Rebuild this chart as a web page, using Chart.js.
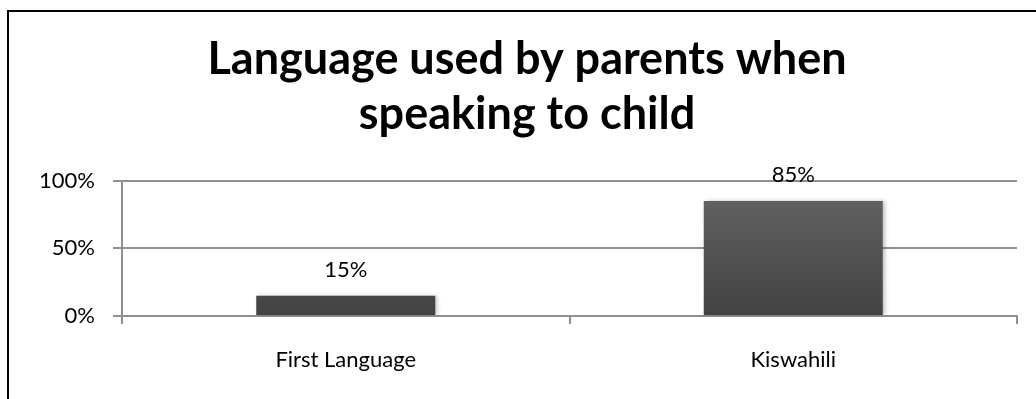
<!DOCTYPE html>
<html>
<head>
<meta charset="utf-8">
<script src="https://cdn.jsdelivr.net/npm/chart.js@4/dist/chart.umd.min.js"></script>
<style>
  html, body { margin: 0; padding: 0; background: #fff; overflow: hidden; }
  #frame {
    position: absolute; left: 7px; top: 10px; width: 1100px; height: 500px;
    border-left: 2px solid #000; border-top: 2px solid #000;
  }
  #chart { position: absolute; left: 0; top: 0; }
</style>
</head>
<body>
<div id="frame"></div>
<canvas id="chart" width="1036" height="399"></canvas>
<script>
const categories = ['First Language', 'Kiswahili'];
const shares = [15, 85];
const yTicks = [0, 50, 100];

const gridColor = '#8f8f8f';

// bars get a dark vertical gradient
function barFill(context) {
  const { chart } = context;
  const area = chart.chartArea;
  if (!area) return '#555';
  const g = chart.ctx.createLinearGradient(0, area.top, 0, area.bottom);
  g.addColorStop(0, '#666666');
  g.addColorStop(1, '#424242');
  return g;
}

// soft shadow behind bars
const barShadow = {
  id: 'barShadow',
  beforeDatasetsDraw(chart) {
    const ctx = chart.ctx;
    ctx.save();
    ctx.shadowColor = 'rgba(0,0,0,0.25)';
    ctx.shadowBlur = 4;
    ctx.shadowOffsetX = 2;
    ctx.shadowOffsetY = 0;
  },
  afterDatasetsDraw(chart) {
    chart.ctx.restore();
  }
};

// percentage above each bar
const valueLabels = {
  id: 'valueLabels',
  afterDatasetsDraw(chart) {
    const ctx = chart.ctx;
    const meta = chart.getDatasetMeta(0);
    ctx.save();
    ctx.font = '22px Lato';
    ctx.fillStyle = '#000';
    ctx.textAlign = 'center';
    ctx.textBaseline = 'alphabetic';
    meta.data.forEach((bar, i) => {
      ctx.fillText(shares[i] + '%', bar.x, bar.y - 19);
    });
    ctx.restore();
  }
};

new Chart(document.getElementById('chart'), {
  type: 'bar',
  data: {
    labels: categories,
    datasets: [{
      data: shares,
      backgroundColor: barFill,
      borderWidth: 0,
      barPercentage: 0.4,
      categoryPercentage: 1.0
    }]
  },
  options: {
    responsive: false,
    animation: false,
    layout: { padding: { left: 37, right: 19, top: 0, bottom: 0 } },
    plugins: {
      legend: { display: false },
      tooltip: { enabled: false },
      title: {
        display: true,
        text: ['Language used by parents when', 'speaking to child'],
        color: '#000',
        font: { family: 'Lato', size: 45, weight: 'bold', lineHeight: 1.22 },
        padding: { top: 32, bottom: 39 }
      }
    },
    scales: {
      x: {
        afterFit(scale) { scale.height = 83; },
        grid: {
          display: true,
          offset: true,
          drawOnChartArea: false,
          drawTicks: true,
          tickLength: 8,
          color: gridColor,
          lineWidth: 2
        },
        border: { display: true, color: gridColor, width: 2 },
        ticks: {
          color: '#000',
          padding: 23,
          font: { family: 'Lato', size: 22 }
        }
      },
      y: {
        min: 0,
        max: 100,
        afterFit(scale) { scale.width = 85; },
        afterBuildTicks(scale) { scale.ticks = yTicks.map(v => ({ value: v })); },
        grid: {
          color: gridColor,
          lineWidth: 2,
          drawTicks: true,
          tickLength: 9
        },
        border: { display: true, color: gridColor, width: 2 },
        ticks: {
          color: '#000',
          padding: 18,
          font: { family: 'Lato', size: 22 },
          callback: v => v + '%'
        }
      }
    }
  },
  plugins: [barShadow, valueLabels]
});
</script>
</body>
</html>
